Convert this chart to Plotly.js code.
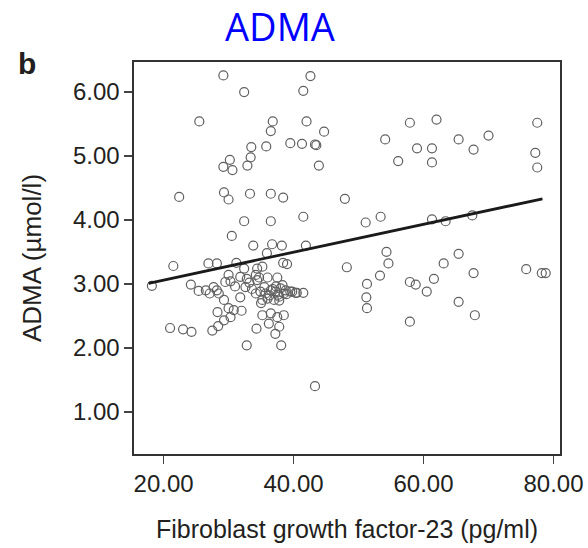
<!DOCTYPE html>
<html>
<head>
<meta charset="utf-8">
<script src="https://cdn.plot.ly/plotly-3.0.1.min.js"></script>
<style>
html,body{margin:0;padding:0;background:#fff;}
#chart{width:588px;height:548px;}
</style>
</head>
<body>
<div id="chart"></div>
<script>
// FGF-23 (pg/ml) values
const fgf23 = [
  29.2, 32.4, 42.6, 41.5, 25.5, 36.8, 42.0, 36.5, 44.7, 35.8,
  39.5, 41.3, 43.3, 43.5, 43.9, 33.5, 33.4, 32.9, 30.2, 29.2,
  30.6, 22.4, 29.3, 30.0, 33.3, 36.5, 38.4, 47.9, 32.4, 36.5,
  41.5, 30.5, 33.8, 36.7, 38.2, 41.9, 54.1, 57.9, 62.0, 59.0,
  61.3, 56.1, 61.3, 65.4, 67.7, 70.0, 77.5, 77.2, 77.5, 51.1,
  53.4, 61.3, 63.4, 67.5, 54.3, 54.6, 48.2, 53.3, 51.3, 51.2,
  51.3, 57.9, 58.8, 60.5, 61.6, 63.1, 65.4, 67.7, 65.4, 67.9,
  57.9, 75.8, 78.2, 78.8, 40.5, 41.5, 18.2, 21.5, 24.2, 26.9,
  28.2, 25.4, 27.1, 28.2, 29.3, 30.0, 30.3, 31.2, 32.4, 31.8,
  32.8, 33.2, 28.3, 30.0, 30.8, 32.0, 29.3, 28.4, 27.5, 21.0,
  23.0, 24.3, 34.3, 32.8, 38.1, 43.3, 35.9, 38.4, 39.0, 35.2,
  34.2, 34.7, 36.0, 37.5, 38.3, 38.8, 34.9, 35.7, 36.5, 37.2,
  36.0, 37.0, 37.8, 38.5, 34.2, 39.5, 35.2, 37.8, 26.5, 27.7,
  28.5, 29.5, 31.8, 32.6, 34.4, 34.4, 35.2, 36.5, 37.5, 38.5,
  36.2, 37.8, 37.2, 30.3, 36.8, 37.6, 38.0, 36.3, 35.5, 38.9,
  37.3, 33.6, 31.0, 35.0, 39.8, 40.3
];
// ADMA (µmol/l) values
const adma = [
  6.26, 6.00, 6.25, 6.02, 5.54, 5.54, 5.54, 5.39, 5.38, 5.15,
  5.20, 5.19, 5.18, 5.17, 4.85, 5.14, 4.98, 4.85, 4.94, 4.83,
  4.78, 4.36, 4.43, 4.32, 4.41, 4.41, 4.35, 4.33, 3.98, 3.98,
  4.05, 3.75, 3.60, 3.62, 3.60, 3.60, 5.26, 5.52, 5.57, 5.12,
  5.12, 4.92, 4.90, 5.26, 5.10, 5.32, 5.52, 5.05, 4.82, 3.96,
  4.05, 4.01, 3.98, 4.07, 3.50, 3.32, 3.26, 3.13, 3.00, 2.79,
  2.62, 3.03, 2.99, 2.88, 3.08, 3.32, 3.47, 3.17, 2.72, 2.51,
  2.41, 3.23, 3.17, 3.17, 2.86, 2.86, 2.97, 3.28, 2.99, 3.32,
  3.32, 2.89, 2.85, 2.90, 2.75, 3.14, 3.04, 3.33, 3.24, 2.79,
  3.08, 3.02, 2.56, 2.62, 2.59, 2.58, 2.43, 2.34, 2.27, 2.31,
  2.29, 2.25, 2.30, 2.04, 2.04, 1.40, 3.48, 3.33, 3.31, 3.27,
  3.14, 3.10, 3.10, 3.10, 2.98, 2.90, 2.88, 2.85, 2.90, 2.88,
  2.77, 2.75, 2.80, 2.85, 2.85, 2.88, 2.75, 2.74, 2.90, 2.95,
  2.85, 3.03, 3.11, 2.95, 3.06, 3.24, 2.51, 2.54, 2.48, 2.51,
  2.38, 2.33, 2.22, 2.48, 2.92, 2.83, 2.93, 2.82, 2.95, 2.84,
  2.96, 2.92, 2.96, 2.70, 2.88, 2.86
];
// regression line end points
const fitX = [17.7, 78.3];
const fitY = [3.01, 4.33];

const xTicks = [20, 40, 60, 80];
const yTicks = [1, 2, 3, 4, 5, 6];

const chartTitle = 'ADMA';
const panelLabel = 'b';
const xTitle = 'Fibroblast growth factor-23 (pg/ml)';
const yTitle = 'ADMA (µmol/l)';

const FONT = 'Liberation Sans, Arial, Helvetica, sans-serif';

const traces = [
  {
    type: 'scatter', mode: 'markers',
    x: fgf23, y: adma,
    marker: {symbol: 'circle-open', size: 9, color: '#606060', line: {width: 1.2, color: '#606060'}},
    hoverinfo: 'skip', showlegend: false
  },
  {
    type: 'scatter', mode: 'lines',
    x: fitX, y: fitY,
    line: {color: '#1a1a1a', width: 2.8},
    hoverinfo: 'skip', showlegend: false
  }
];

const axisCommon = {
  showgrid: false, zeroline: false,
  showline: true, linecolor: '#333', linewidth: 1.6, mirror: true,
  ticks: 'outside', ticklen: 8, tickwidth: 1.5, tickcolor: '#444',
  tickformat: '.2f',
  tickfont: {family: FONT, size: 24, color: '#231f20'}
};

const layout = {
  width: 588, height: 548,
  margin: {l: 134, r: 28, t: 62, b: 94},
  paper_bgcolor: '#fff', plot_bgcolor: '#fff',
  showlegend: false,
  title: {
    text: chartTitle,
    font: {family: 'Open Sans, Noto Sans, sans-serif', size: 38, color: '#0000ff'},
    xref: 'paper', xanchor: 'center',
    yref: 'container', yanchor: 'middle'
  },
  xaxis: Object.assign({}, axisCommon, {
    range: [15.45, 81.0],
    tickmode: 'array', tickvals: xTicks,
    title: {text: xTitle, font: {family: FONT, size: 25, color: '#231f20'}, standoff: 24}
  }),
  yaxis: Object.assign({}, axisCommon, {
    range: [0.34, 6.47],
    tickmode: 'array', tickvals: yTicks,
    title: {text: yTitle, font: {family: FONT, size: 26, color: '#231f20'}, standoff: 24}
  }),
  annotations: [
    {text: '<b>' + panelLabel + '</b>', xref: 'paper', yref: 'paper', x: -0.277, y: 0.995,
     xanchor: 'left', yanchor: 'middle', showarrow: false,
     font: {family: FONT, size: 30, color: '#231f20'}}
  ]
};
layout.title.x = (280 - 134) / (588 - 134 - 28);
layout.title.y = 1 - 28 / 548;

Plotly.newPlot('chart', traces, layout, {staticPlot: true, displayModeBar: false});
</script>
</body>
</html>
